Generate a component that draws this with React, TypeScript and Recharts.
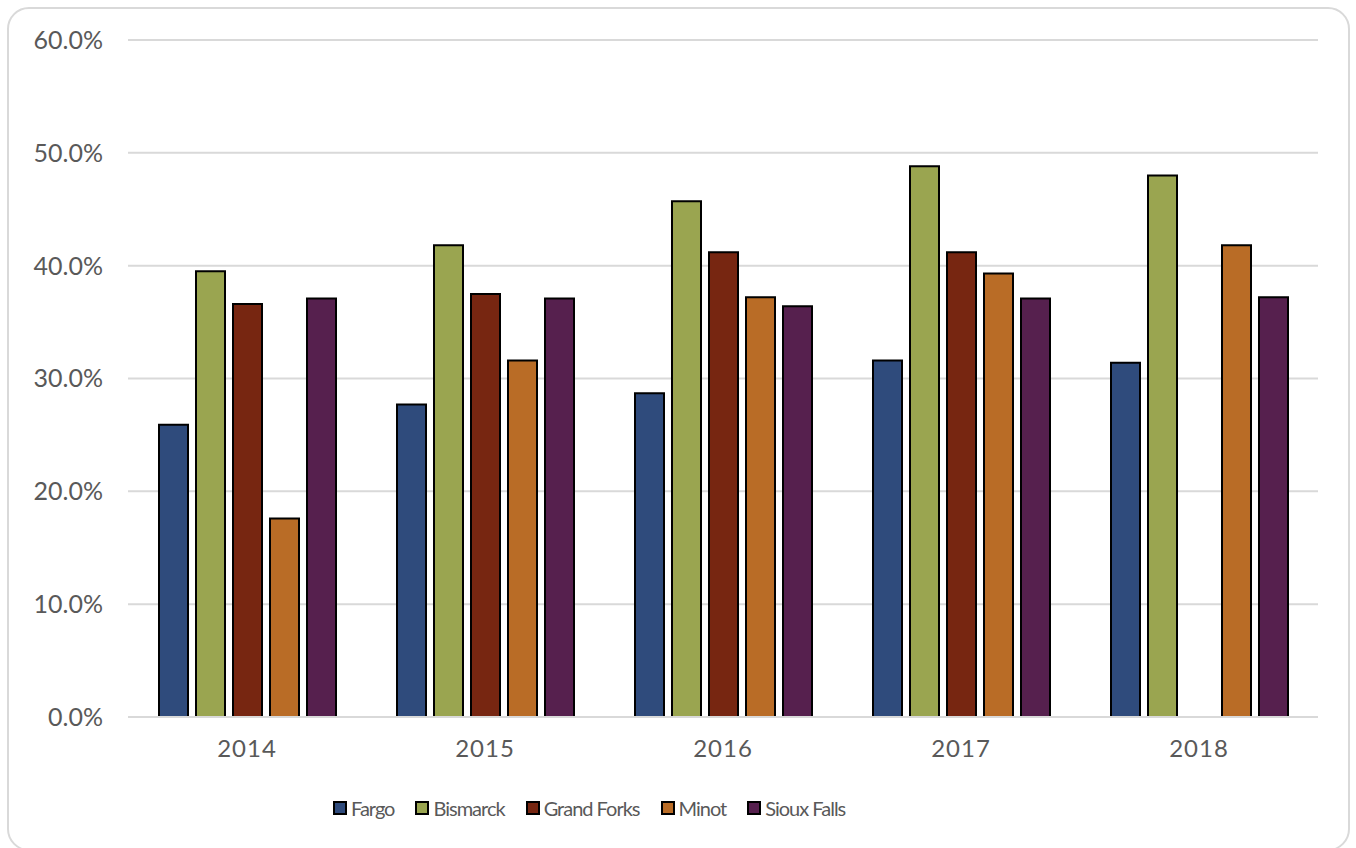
import React from 'react';
import { BarChart, Bar, XAxis, YAxis, CartesianGrid } from 'recharts';

// values, in percent
const years = ['2014', '2015', '2016', '2017', '2018'];
const fargo = [25.9, 27.7, 28.7, 31.6, 31.4];
const bismarck = [39.5, 41.8, 45.7, 48.8, 48.0];
const grandForks = [36.6, 37.5, 41.2, 41.2, null];
const minot = [17.6, 31.6, 37.2, 39.3, 41.8];
const siouxFalls = [37.1, 37.1, 36.4, 37.1, 37.2];
const yTicks = [0, 10, 20, 30, 40, 50, 60];

const series = [
  { key: 'fargo', name: 'Fargo', color: '#2f4b7c', values: fargo },
  { key: 'bismarck', name: 'Bismarck', color: '#9aa550', values: bismarck },
  { key: 'grandForks', name: 'Grand Forks', color: '#772611', values: grandForks },
  { key: 'minot', name: 'Minot', color: '#b96c26', values: minot },
  { key: 'siouxFalls', name: 'Sioux Falls', color: '#56204e', values: siouxFalls },
];

const data = years.map((year, i) => {
  const row: Record<string, any> = { year };
  series.forEach((s) => {
    row[s.key] = s.values[i];
  });
  return row;
});

const FONT = 'Lato, "Open Sans", sans-serif';
const TEXT = '#595959';

const ChartLegend = () => (
  <div
    style={{
      position: 'absolute',
      left: 333,
      top: 796,
      display: 'flex',
      alignItems: 'center',
      fontFamily: FONT,
      fontSize: 20,
      letterSpacing: -1,
      color: TEXT,
    }}
  >
    {series.map((s) => (
      <div key={s.key} style={{ display: 'flex', alignItems: 'center', marginRight: 21 }}>
        <span
          style={{
            width: 10,
            height: 10,
            background: s.color,
            border: '2px solid #000',
            marginRight: 4,
            display: 'inline-block',
          }}
        />
        <span>{s.name}</span>
      </div>
    ))}
  </div>
);

export default function App() {
  return (
    <div style={{ position: 'absolute', left: 0, top: 0, width: 1356, height: 848, background: '#fff' }}>
      <div
        style={{
          position: 'absolute',
          left: 7,
          top: 7,
          width: 1339,
          height: 840,
          border: '2px solid #d9d9d9',
          borderRadius: 22,
        }}
      />
      <BarChart
        width={1356}
        height={848}
        data={data}
        margin={{ top: 40, right: 38, bottom: 101, left: 28 }}
        barSize={29}
        barGap={8}
        style={{ position: 'absolute', left: 0, top: 0 }}
      >
        <CartesianGrid vertical={false} stroke="#d9d9d9" strokeWidth={2} />
        <XAxis
          dataKey="year"
          height={30}
          axisLine={{ stroke: '#d9d9d9', strokeWidth: 2 }}
          tickLine={false}
          tickSize={0}
          tickMargin={23}
          tick={{ fill: TEXT, fontSize: 24, fontFamily: FONT, letterSpacing: 1 }}
        />
        <YAxis
          width={100}
          domain={[0, 60]}
          ticks={yTicks}
          interval={0}
          axisLine={false}
          tickLine={false}
          tickSize={0}
          tickMargin={25}
          tickFormatter={(v: number) => `${v.toFixed(1)}%`}
          tick={{ fill: TEXT, fontSize: 25, fontFamily: FONT }}
        />
        {series.map((s) => (
          <Bar
            key={s.key}
            dataKey={s.key}
            name={s.name}
            fill={s.color}
            stroke="#000"
            strokeWidth={2}
            isAnimationActive={false}
          />
        ))}
      </BarChart>
      <ChartLegend />
    </div>
  );
}
